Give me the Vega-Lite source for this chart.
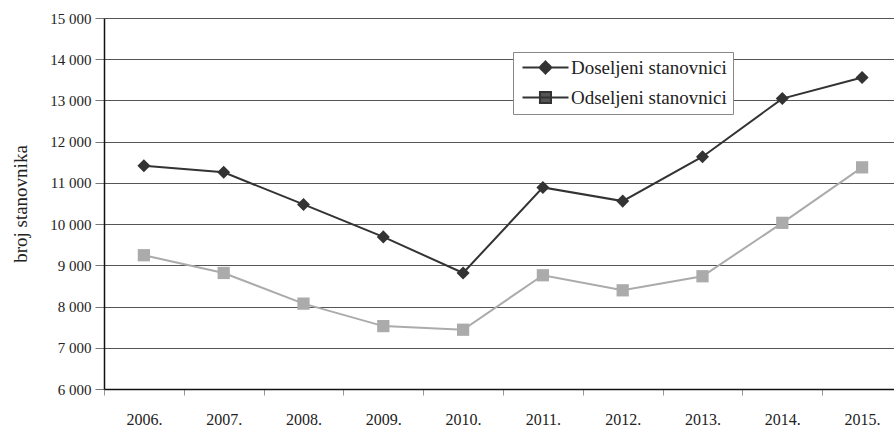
{
  "$schema": "https://vega.github.io/schema/vega-lite/v6.json",
  "width": 790,
  "height": 371,
  "autosize": {"type": "none"},
  "padding": {"left": 104, "top": 18, "right": 0, "bottom": 38},
  "background": "white",
  "config": {
    "view": {"stroke": null},
    "font": "Liberation Serif"
  },
  "data": {
    "values": [
      {"year": "2006.", "series": "Doseljeni stanovnici", "value": 11416},
      {"year": "2007.", "series": "Doseljeni stanovnici", "value": 11256},
      {"year": "2008.", "series": "Doseljeni stanovnici", "value": 10478},
      {"year": "2009.", "series": "Doseljeni stanovnici", "value": 9690},
      {"year": "2010.", "series": "Doseljeni stanovnici", "value": 8815},
      {"year": "2011.", "series": "Doseljeni stanovnici", "value": 10890},
      {"year": "2012.", "series": "Doseljeni stanovnici", "value": 10558},
      {"year": "2013.", "series": "Doseljeni stanovnici", "value": 11635},
      {"year": "2014.", "series": "Doseljeni stanovnici", "value": 13045},
      {"year": "2015.", "series": "Doseljeni stanovnici", "value": 13556},
      {"year": "2006.", "series": "Odseljeni stanovnici", "value": 9245},
      {"year": "2007.", "series": "Odseljeni stanovnici", "value": 8815},
      {"year": "2008.", "series": "Odseljeni stanovnici", "value": 8071},
      {"year": "2009.", "series": "Odseljeni stanovnici", "value": 7526},
      {"year": "2010.", "series": "Odseljeni stanovnici", "value": 7438},
      {"year": "2011.", "series": "Odseljeni stanovnici", "value": 8759},
      {"year": "2012.", "series": "Odseljeni stanovnici", "value": 8394},
      {"year": "2013.", "series": "Odseljeni stanovnici", "value": 8735},
      {"year": "2014.", "series": "Odseljeni stanovnici", "value": 10031},
      {"year": "2015.", "series": "Odseljeni stanovnici", "value": 11377}
    ]
  },
  "encoding": {
    "x": {
      "field": "year",
      "type": "ordinal",
      "scale": {"type": "band", "paddingInner": 0, "paddingOuter": 0, "range": [0, 798]},
      "axis": {
        "title": null,
        "labelAngle": 0,
        "tickBand": "extent",
        "domainColor": "#111",
        "domainWidth": 1.5,
        "tickColor": "#999",
        "tickSize": 6,
        "labelPadding": 16,
        "labelFont": "Liberation Serif",
        "labelFontSize": 16,
        "labelColor": "#222",
        "grid": false
      }
    },
    "y": {
      "field": "value",
      "type": "quantitative",
      "scale": {"domain": [6000, 15000], "nice": false, "zero": false},
      "axis": {
        "title": "broj stanovnika",
        "titleFont": "Liberation Serif",
        "titleFontSize": 19,
        "titleFontWeight": "normal",
        "titleColor": "#222",
        "titlePadding": 19,
        "values": [6000, 7000, 8000, 9000, 10000, 11000, 12000, 13000, 14000, 15000],
        "labelExpr": "replace(format(datum.value, ','), ',', ' ')",
        "labelFont": "Liberation Serif",
        "labelFontSize": 15,
        "labelColor": "#222",
        "labelPadding": 4,
        "tickSize": 9,
        "tickColor": "#777",
        "domainColor": "#111",
        "domainWidth": 1.5,
        "grid": true,
        "gridColor": "#555",
        "gridWidth": 1,
        "gridOpacity": 1
      }
    }
  },
  "layer": [
    {
      "transform": [{"filter": "datum.series == 'Doseljeni stanovnici'"}],
      "mark": {"type": "line", "strokeWidth": 2, "color": "#333333"},
      "encoding": {}
    },
    {
      "transform": [{"filter": "datum.series == 'Odseljeni stanovnici'"}],
      "mark": {"type": "line", "strokeWidth": 2, "color": "#ababab"},
      "encoding": {}
    },
    {
      "transform": [{"filter": "datum.series == 'Doseljeni stanovnici'"}],
      "mark": {"type": "point", "filled": true, "opacity": 1, "shape": "diamond", "size": 170, "color": "#333333"}
    },
    {
      "transform": [{"filter": "datum.series == 'Odseljeni stanovnici'"}],
      "mark": {"type": "point", "filled": true, "opacity": 1, "shape": "square", "size": 150, "color": "#ababab"}
    },
    {
      "mark": {"type": "line", "strokeWidth": 0, "opacity": 0, "color": "#333333"},
      "encoding": {
        "strokeDash": {
          "field": "series",
          "type": "nominal",
          "scale": {"domain": ["Doseljeni stanovnici", "Odseljeni stanovnici"], "range": [[1, 0], [1, 0]]},
          "legend": {
            "title": null,
            "orient": "none",
            "legendX": 409,
            "legendY": 34,
            "padding": 6,
            "fillColor": "white",
            "strokeColor": "#888",
            "labelFont": "Liberation Serif",
            "labelFontSize": 19,
            "labelColor": "#222",
            "labelOffset": 33,
            "rowPadding": 9,
            "symbolSize": 144,
            "symbolType": "circle",
            "symbolStrokeWidth": 2,
            "symbolStrokeColor": "#333333",
            "symbolOpacity": 1,
            "encode": {
              "symbols": {
                "update": {
                  "shape": {"signal": "datum.value == 'Doseljeni stanovnici' ? 'M-1,0H6.67M2.83,-1L3.83,0L2.83,1L1.83,0Z' : 'M-1,0H6.67M1.91,-0.92H3.75V0.92H1.91Z'"},
                  "stroke": {"value": "#333333"},
                  "fill": {"signal": "datum.value == 'Doseljeni stanovnici' ? '#333333' : '#555555'"},
                  "fillOpacity": {"value": 1},
                  "strokeWidth": {"value": 2},
                  "opacity": {"value": 1}
                }
              }
            }
          }
        }
      }
    }
  ]
}
